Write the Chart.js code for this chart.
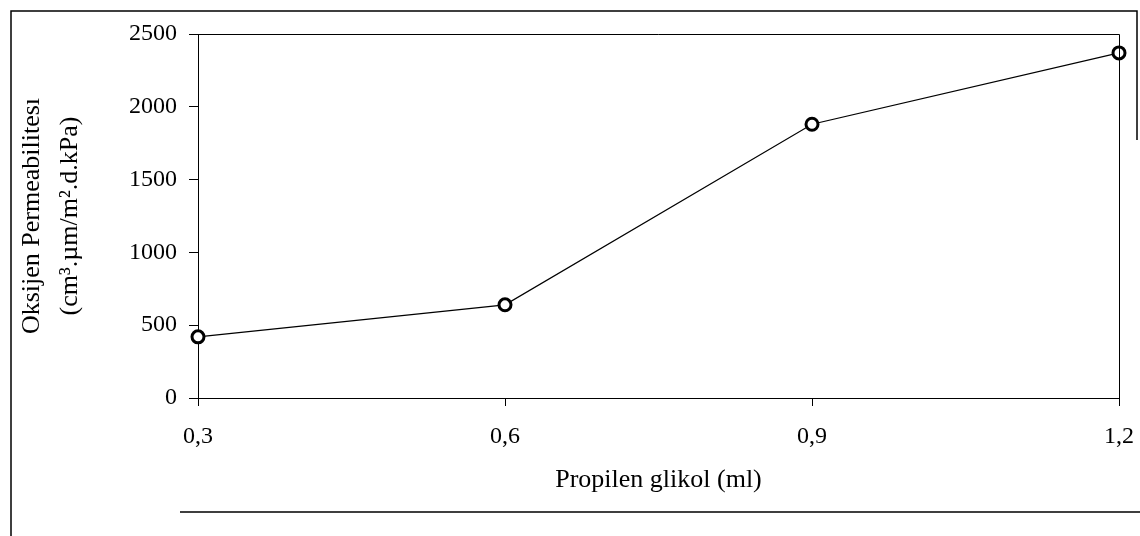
<!DOCTYPE html>
<html>
<head>
<meta charset="utf-8">
<script src="https://cdn.jsdelivr.net/npm/chart.js@4.4.1/dist/chart.umd.min.js"></script>
<style>
  html, body { margin: 0; padding: 0; background: #fff; }
  #wrap { position: relative; width: 1140px; height: 536px; }
</style>
</head>
<body>
<div id="wrap"><canvas id="c" width="1140" height="536"></canvas></div>
<script>
const categories = ["0,3", "0,6", "0,9", "1,2"];
const permeability = [420, 640, 1880, 2370];
const yTicks = [0, 500, 1000, 1500, 2000, 2500];
const xTitle = "Propilen glikol (ml)";
const yTitle = ["Oksijen Permeabilitesı", "(cm³.µm/m².d.kPa)"];

const serif = "'Liberation Serif', 'Times New Roman', serif";

const framePlugin = {
  id: 'frame',
  afterDraw(chart) {
    const ctx = chart.ctx;
    const a = chart.chartArea;
    ctx.save();
    ctx.strokeStyle = '#000';
    ctx.lineWidth = 1;
    ctx.beginPath();
    ctx.moveTo(a.left, a.top + 0.5);
    ctx.lineTo(a.right + 0.5, a.top + 0.5);
    ctx.lineTo(a.right + 0.5, a.bottom);
    ctx.stroke();
    ctx.lineWidth = 1.5;
    ctx.beginPath();
    ctx.moveTo(11, 536);
    ctx.lineTo(11, 11);
    ctx.lineTo(1137, 11);
    ctx.lineTo(1137, 140);
    ctx.moveTo(180, 512);
    ctx.lineTo(1140, 512);
    ctx.stroke();
    ctx.restore();
  }
};

new Chart(document.getElementById('c'), {
  type: 'line',
  data: {
    labels: categories,
    datasets: [{
      data: permeability,
      borderColor: '#000',
      borderWidth: 1.2,
      backgroundColor: '#fff',
      pointBackgroundColor: '#fff',
      pointBorderColor: '#000',
      pointBorderWidth: 3,
      pointRadius: 6,
      tension: 0,
      fill: false
    }]
  },
  options: {
    responsive: false,
    animation: false,
    devicePixelRatio: 1,
    layout: { padding: { left: 0, top: 34, right: 21, bottom: 0 } },
    plugins: { legend: { display: false }, tooltip: { enabled: false } },
    scales: {
      x: {
        type: 'category',
        offset: false,
        grid: { drawOnChartArea: false, drawTicks: true, tickLength: 8, color: '#000' },
        border: { display: true, color: '#000', width: 1 },
        ticks: { color: '#000', font: { family: serif, size: 24 }, padding: 16, maxRotation: 0 },
        title: { display: true, text: xTitle, color: '#000', font: { family: serif, size: 26 }, padding: { top: 0, bottom: 40 } },
        afterFit(scale) { scale.height = 138; scale.paddingLeft = 0; scale.paddingRight = 0; }
      },
      y: {
        min: 0, max: 2500,
        afterBuildTicks(scale) { scale.ticks = yTicks.map(v => ({ value: v })); },
        grid: { drawOnChartArea: false, drawTicks: true, tickLength: 9, color: '#000' },
        border: { display: true, color: '#000', width: 1 },
        ticks: { color: '#000', font: { family: serif, size: 24 }, padding: 12, callback: v => String(v) },
        title: { display: true, text: yTitle, color: '#000', font: { family: serif, size: 26, lineHeight: 1.46 }, padding: { top: 13, bottom: 0 } },
        afterFit(scale) { scale.width = 198; scale.paddingTop = 0; scale.paddingBottom = 0; }
      }
    }
  },
  plugins: [framePlugin]
});
</script>
</body>
</html>
